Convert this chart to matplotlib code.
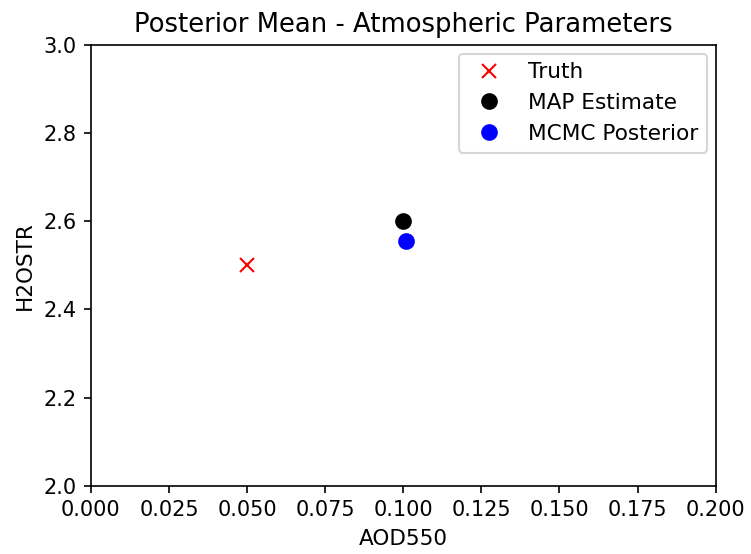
import matplotlib
matplotlib.use("Agg")
import matplotlib.pyplot as plt

# point estimates (AOD550, H2OSTR)
truth_x = [0.05]
truth_y = [2.5]
map_x = [0.1]
map_y = [2.6]
mcmc_x = [0.1009]
mcmc_y = [2.555]

fig = plt.figure(figsize=(751 / 150, 554 / 150), dpi=150)
ax = fig.add_axes([0.121, 0.123, 0.832, 0.796])

ax.plot(truth_x, truth_y, 'rx', markersize=7, linestyle='none', label='Truth')
ax.plot(map_x, map_y, 'ko', markersize=7, linestyle='none', label='MAP Estimate')
ax.plot(mcmc_x, mcmc_y, 'bo', markersize=7, linestyle='none', label='MCMC Posterior')

ax.set_xlim(0, 0.2)
ax.set_ylim(2.0, 3.0)
ax.set_xlabel('AOD550', fontsize=10.3)
ax.set_ylabel('H2OSTR', fontsize=10.3)
ax.set_title('Posterior Mean - Atmospheric Parameters', fontsize=12.4)
ax.legend(loc='upper right', fontsize=10.4, borderaxespad=0.4)

fig.savefig('out.png', dpi=150)
